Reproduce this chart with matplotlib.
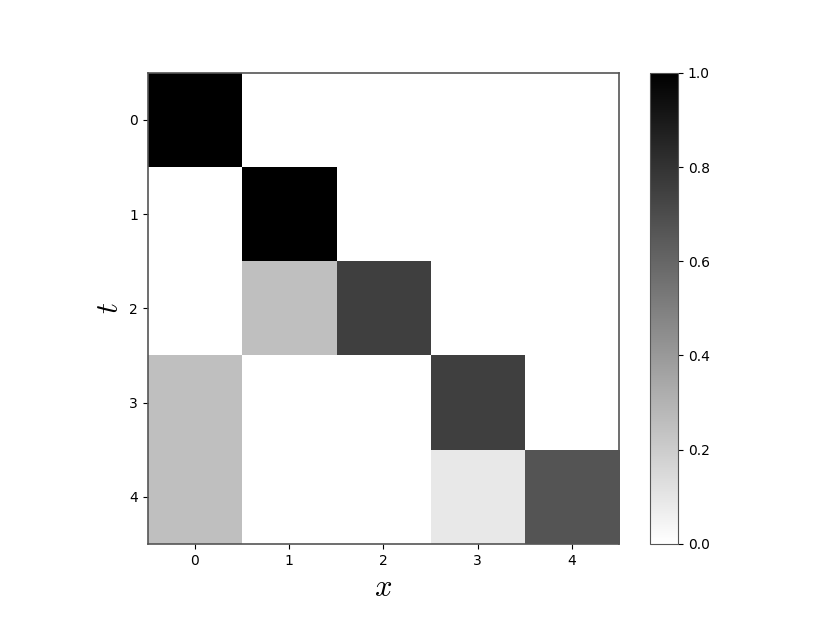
import numpy as np
import matplotlib
matplotlib.use("Agg")
import matplotlib.pyplot as plt

plt.rcParams["mathtext.fontset"] = "cm"

x_labels = [0, 1, 2, 3, 4]
t_labels = [0, 1, 2, 3, 4]
row0 = [1.0, 0.0, 0.0, 0.0, 0.0]
row1 = [0.0, 1.0, 0.0, 0.0, 0.0]
row2 = [0.0, 0.25, 0.75, 0.0, 0.0]
row3 = [0.25, 0.0, 0.0, 0.75, 0.0]
row4 = [0.25, 0.0, 0.0, 0.09, 0.67]

data = np.array([row0, row1, row2, row3, row4])

fig = plt.figure(figsize=(8.3, 6.23), dpi=100)
ax = fig.add_axes([0.178, 0.127, 0.568, 0.756])
cax = fig.add_axes([0.783, 0.127, 0.034, 0.756])
im = ax.imshow(data, cmap="gray_r", vmin=0, vmax=1, aspect="auto")
ax.set_xticks(range(len(x_labels)))
ax.set_xticklabels([str(v) for v in x_labels])
ax.set_yticks(range(len(t_labels)))
ax.set_yticklabels([str(v) for v in t_labels])
ax.set_xlabel(r"$x$", fontsize=22)
ax.set_ylabel(r"$t$", fontsize=22)
for s in ax.spines.values():
    s.set_edgecolor("#555555")
    s.set_linewidth(1.2)
cb = fig.colorbar(im, cax=cax)
cb.outline.set_edgecolor("#555555")
cb.set_ticks([0.0, 0.2, 0.4, 0.6, 0.8, 1.0])
fig.savefig("out.png", dpi=100)
